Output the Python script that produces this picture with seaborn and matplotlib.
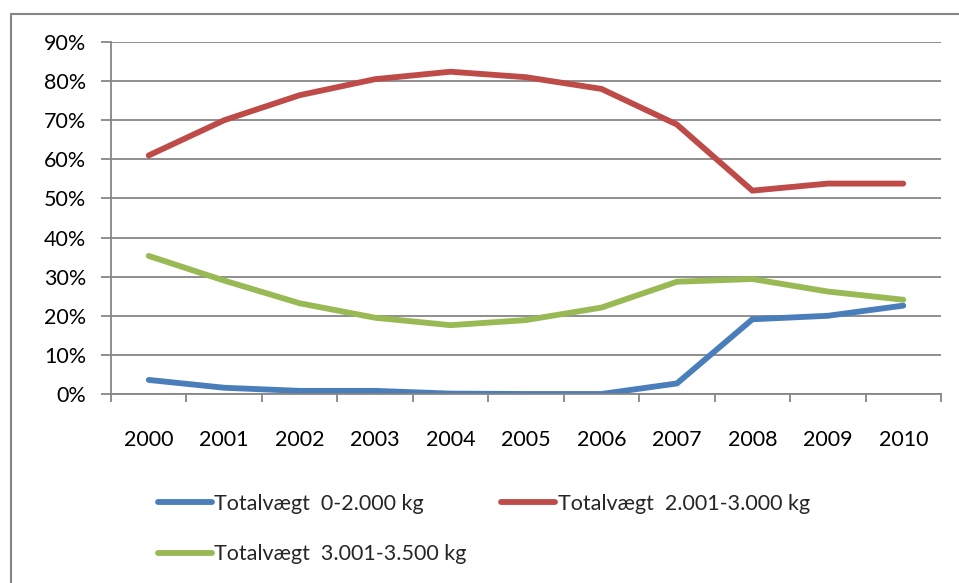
import matplotlib
matplotlib.use("Agg")
import matplotlib.pyplot as plt
from matplotlib.patches import Rectangle
from matplotlib.lines import Line2D
from matplotlib.ticker import FixedLocator, PercentFormatter
import numpy as np
import pandas as pd
import seaborn as sns

years = ["2000", "2001", "2002", "2003", "2004", "2005",
         "2006", "2007", "2008", "2009", "2010"]
series_names = ["Totalvægt  0-2.000 kg",
                "Totalvægt  2.001-3.000 kg",
                "Totalvægt  3.001-3.500 kg"]
light = [3.6, 1.6, 0.8, 0.8, 0.1, 0.0, 0.0, 2.7, 19.1, 20.0, 22.6]
medium = [61.0, 70.0, 76.4, 80.5, 82.4, 81.0, 78.0, 68.9, 52.0, 53.8, 53.8]
heavy = [35.3, 29.0, 23.2, 19.5, 17.6, 18.9, 22.1, 28.7, 29.4, 26.2, 24.1]
colors = ["#4A7EBB", "#BE4B48", "#98B954"]

sns.set_theme(style="white")
plt.rcParams["font.family"] = ["Lato", "DejaVu Sans"]
fs = 15.5

rows = []
for name, vals in zip(series_names, [light, medium, heavy]):
    for i, (y, v) in enumerate(zip(years, vals)):
        rows.append({"pos": i, "year": y, "share": v / 100.0, "series": name})
df = pd.DataFrame(rows)

fig = plt.figure(figsize=(9.59, 5.83), dpi=100)
ax = fig.add_axes([111 / 959, 1 - 394 / 583, (941 - 111) / 959, (394 - 42) / 583])

sns.lineplot(data=df, x="pos", y="share", hue="series", palette=colors,
             hue_order=series_names, linewidth=4.2, ax=ax, legend=False,
             solid_capstyle="round", solid_joinstyle="miter")

grid_c = "#868686"
ax.set_xlim(-0.5, len(years) - 0.5)
ax.set_ylim(0, 0.9)
ax.yaxis.set_major_locator(FixedLocator(np.arange(0, 0.91, 0.1)))
ax.yaxis.set_major_formatter(PercentFormatter(1.0, decimals=0))
ax.set_xticks(range(len(years)))
ax.set_xticklabels(years)
ax.set_xticks(np.arange(-0.5, len(years), 1.0), minor=True)
ax.tick_params(axis="x", which="major", length=0, pad=26, labelsize=fs,
               labelcolor="black")
ax.tick_params(axis="x", which="minor", length=6, width=1.3, color=grid_c,
               direction="out", bottom=True)
ax.tick_params(axis="y", which="major", length=7, width=1.3, color=grid_c,
               direction="out", pad=11, labelsize=fs, labelcolor="black", left=True)
ax.grid(axis="y", color=grid_c, linewidth=1.3)
ax.set_axisbelow(True)
for side in ["top", "right"]:
    ax.spines[side].set_visible(False)
for side in ["left", "bottom"]:
    ax.spines[side].set_color(grid_c)
    ax.spines[side].set_linewidth(1.3)
ax.set_xlabel("")
ax.set_ylabel("")

# chart frame
fig.patches.append(Rectangle((11 / 959, -0.2), 2.0, 1.2 - 14 / 583,
                             transform=fig.transFigure, fill=False,
                             edgecolor=grid_c, linewidth=1.5))

handles = [Line2D([], [], color=c, linewidth=4.2) for c in colors]
order = [0, 2, 1]
fig.legend([handles[i] for i in order], [series_names[i] for i in order],
           loc="upper left", bbox_to_anchor=(158 / 959, 1 - 494 / 583),
           ncol=2, frameon=False, fontsize=fs, handlelength=2.5,
           handletextpad=0.12, columnspacing=1.6, labelspacing=1.4,
           borderaxespad=0, borderpad=0)

fig.savefig("out.png", dpi=100)
